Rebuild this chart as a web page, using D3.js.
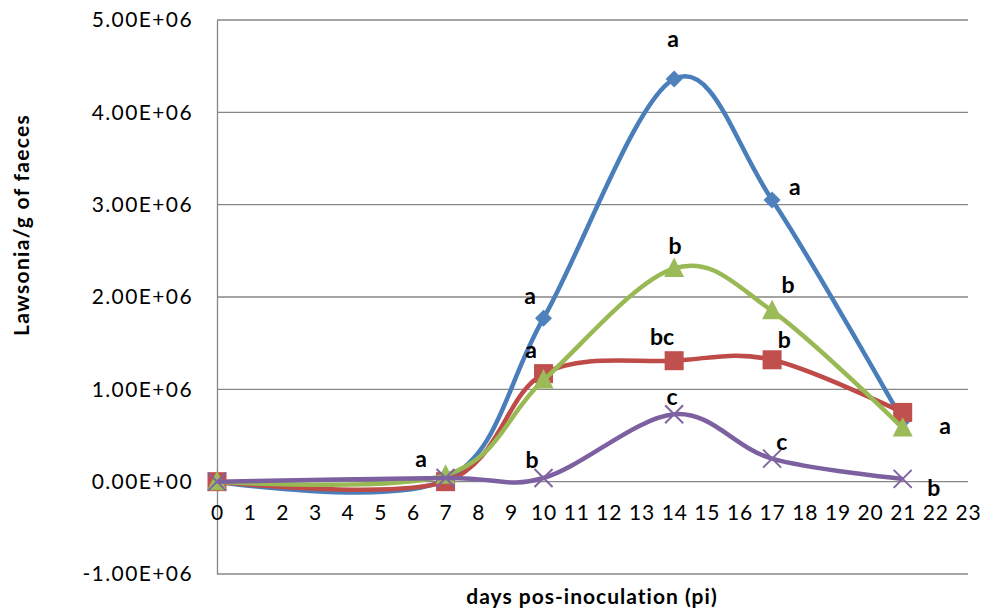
<!DOCTYPE html>
<html><head><meta charset="utf-8">
<script src="https://cdn.jsdelivr.net/npm/d3@7"></script>
<style>
body{margin:0;background:#fff;}
svg{display:block;font-family:Lato,"Open Sans",sans-serif;}
</style></head>
<body><svg id="c" width="984" height="614"></svg>
<script>
// ---- data ----
const days = [0, 7, 10, 14, 17, 21];
const blueValues   = [0, 0.02e6, 1.77e6, 4.36e6, 3.05e6, 0.66e6];
const redValues    = [0, 0.00e6, 1.17e6, 1.31e6, 1.32e6, 0.75e6];
const greenValues  = [0, 0.07e6, 1.10e6, 2.31e6, 1.85e6, 0.58e6];
const purpleValues = [0, 0.04e6, 0.04e6, 0.73e6, 0.25e6, 0.03e6];
const yTicks = [-1e6, 0, 1e6, 2e6, 3e6, 4e6, 5e6];
const xTicks = d3.range(0, 24);
// significance letters: day, value, text
const letterDays   = [13.97, 17.7, 9.59, 9.62, 14.03, 17.49, 13.63, 17.37, 13.94, 17.3, 22.3, 6.25, 9.65, 21.95];
const letterValues = [4.81e6, 3.20e6, 2.02e6, 1.44e6, 2.56e6, 2.14e6, 1.58e6, 1.55e6, 0.93e6, 0.44e6, 0.61e6, 0.26e6, 0.25e6, -0.06e6];
const letterTexts  = ["a", "a", "a", "a", "b", "b", "bc", "b", "c", "c", "a", "a", "b", "b"];

const svg = d3.select("#c");
const x = d3.scaleLinear().domain([0, 23]).range([217, 968]);
const y = d3.scaleLinear().domain([-1e6, 5e6]).range([574, 20]);

// gridlines
svg.append("g").selectAll("line").data(yTicks).join("line")
  .attr("x1", x(0)).attr("x2", x(23))
  .attr("y1", d => y(d)).attr("y2", d => y(d))
  .attr("stroke", "#868686").attr("stroke-width", 1.3);

// y axis
const fmt = d => (d < 0 ? "-" : "") + (Math.abs(d) / 1e6).toFixed(2) + (d === 0 ? "E+00" : "E+06");
const yAxis = svg.append("g").attr("transform", `translate(${x(0)},0)`)
  .call(d3.axisLeft(y).tickValues(yTicks).tickFormat(fmt).tickSize(0).tickPadding(24));
yAxis.select(".domain").attr("stroke", "#868686").attr("stroke-width", 1.3);
yAxis.selectAll("text").attr("font-size", 21).attr("letter-spacing", 1.4).attr("fill", "#000").attr("font-family", "Lato");

// x axis labels
const xAxis = svg.append("g").attr("transform", `translate(0,${y(0)})`)
  .call(d3.axisBottom(x).tickValues(xTicks).tickFormat(d3.format("d")).tickSize(0).tickPadding(23));
xAxis.select(".domain").remove();
xAxis.selectAll("text").attr("font-size", 21).attr("letter-spacing", 0.8).attr("fill", "#000").attr("font-family", "Lato");

// axis titles
svg.append("text").attr("x", 592).attr("y", 604).attr("text-anchor", "middle")
  .attr("font-weight", "bold").attr("font-size", 21).attr("letter-spacing", 1).text("days pos-inoculation (pi)");
svg.append("text").attr("transform", "translate(29,225) rotate(-90)").attr("text-anchor", "middle")
  .attr("font-weight", "bold").attr("font-size", 21).attr("letter-spacing", 1.3).text("Lawsonia/g of faeces");

const series = [
  {vals: blueValues, line: "#4a7ebb", mark: "#4f81bd", shape: "diamond"},
  {vals: redValues, line: "#be4b48", mark: "#c0504d", shape: "square"},
  {vals: greenValues, line: "#98b954", mark: "#9bbb59", shape: "triangle"},
  {vals: purpleValues, line: "#7d60a0", mark: "#8064a2", shape: "x"}
];

const line = d3.line().x(d => x(d[0])).y(d => y(d[1])).curve(d3.curveCardinal.tension(0));

series.forEach(s => {
  const pts = days.map((d, i) => [d, s.vals[i]]);
  const g = svg.append("g");
  g.append("path").attr("d", line(pts)).attr("fill", "none")
    .attr("stroke", s.line).attr("stroke-width", 4.5).attr("stroke-linejoin", "round");
  pts.forEach(p => {
    const cx = x(p[0]), cy = y(p[1]);
    if (s.shape === "diamond") {
      g.append("path").attr("d", `M${cx},${cy-8.5}L${cx+8.5},${cy}L${cx},${cy+8.5}L${cx-8.5},${cy}Z`).attr("fill", s.mark);
    } else if (s.shape === "square") {
      g.append("rect").attr("x", cx - 9.5).attr("y", cy - 9.5).attr("width", 19).attr("height", 19).attr("fill", s.mark);
    } else if (s.shape === "triangle") {
      g.append("path").attr("d", `M${cx},${cy-11}L${cx+10},${cy+8.5}L${cx-10},${cy+8.5}Z`).attr("fill", s.mark);
    } else {
      g.append("path").attr("d", `M${cx-9},${cy-9}L${cx+9},${cy+9}M${cx-9},${cy+9}L${cx+9},${cy-9}`)
        .attr("stroke", s.mark).attr("stroke-width", 2);
    }
  });
});

// letters
svg.append("g").selectAll("text").data(letterTexts).join("text")
  .attr("x", (d, i) => x(letterDays[i])).attr("y", (d, i) => y(letterValues[i]))
  .attr("text-anchor", "middle").attr("dominant-baseline", "central")
  .attr("font-weight", "bold").attr("font-size", 23).text(d => d);
</script></body></html>
